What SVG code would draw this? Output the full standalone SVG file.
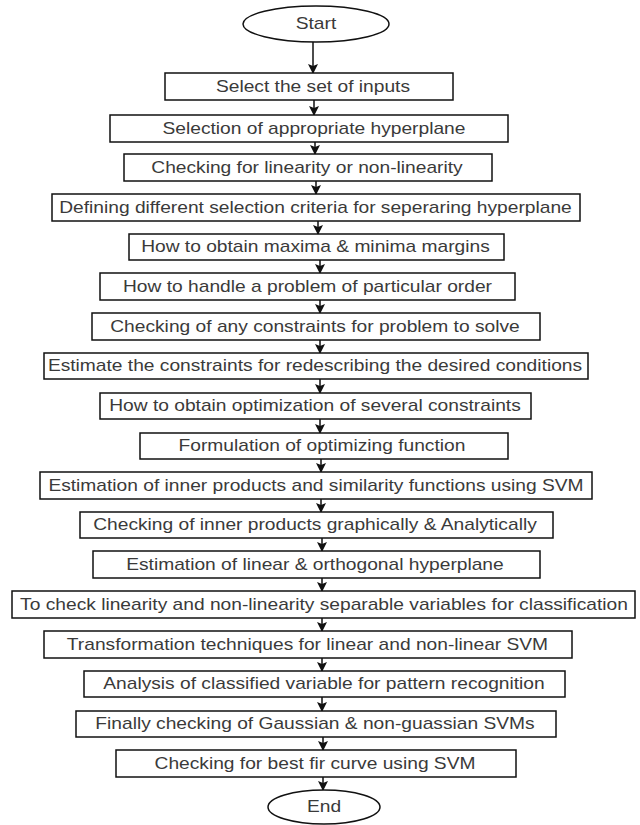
<svg xmlns="http://www.w3.org/2000/svg" width="640" height="825" viewBox="0 0 640 825">
<style>
.b{fill:#fff;stroke:#111;stroke-width:1.5}
.t{font-family:"Liberation Sans",Arial,sans-serif;font-size:16px;fill:#3a3a3a;text-anchor:middle;dominant-baseline:central;transform-box:fill-box;transform-origin:center;transform:scaleX(1.2)}
.c{stroke:#111;stroke-width:1.5;fill:none;marker-end:url(#ah)}
</style>
<defs>
<marker id="ah" markerWidth="10" markerHeight="10" refX="9" refY="5" orient="auto" markerUnits="userSpaceOnUse">
<path d="M0,0 L10,5 L0,10 L2,5 Z" fill="#111"/>
</marker>
</defs>
<rect width="640" height="825" fill="#fff"/>
<g id="connectors">
<line class="c" x1="313" y1="42" x2="313" y2="73"/>
<line class="c" x1="314" y1="100" x2="314" y2="115"/>
<line class="c" x1="315" y1="142" x2="315" y2="154"/>
<line class="c" x1="316" y1="181" x2="316" y2="194"/>
<line class="c" x1="318" y1="221" x2="318" y2="234"/>
<line class="c" x1="320" y1="260" x2="320" y2="273"/>
<line class="c" x1="320" y1="300" x2="320" y2="313"/>
<line class="c" x1="320" y1="340" x2="320" y2="353"/>
<line class="c" x1="320" y1="379" x2="320" y2="393"/>
<line class="c" x1="320" y1="419" x2="320" y2="433"/>
<line class="c" x1="321" y1="459" x2="321" y2="472"/>
<line class="c" x1="321" y1="499" x2="321" y2="512"/>
<line class="c" x1="322" y1="538" x2="322" y2="551"/>
<line class="c" x1="322" y1="578" x2="322" y2="591"/>
<line class="c" x1="322" y1="618" x2="322" y2="631"/>
<line class="c" x1="322" y1="658" x2="322" y2="671"/>
<line class="c" x1="322" y1="697" x2="322" y2="711"/>
<line class="c" x1="323" y1="737" x2="323" y2="750"/>
<line class="c" x1="323" y1="777" x2="323" y2="790"/>
</g>
<g id="start"><ellipse class="b" cx="316" cy="24" rx="73" ry="18"/><text class="t" x="316" y="24">Start</text></g>
<g id="n1"><rect class="b" x="165" y="73" width="288" height="27"/><text class="t" x="313" y="86.5">Select the set of inputs</text></g>
<g id="n2"><rect class="b" x="110" y="115" width="398" height="27"/><text class="t" x="314" y="128.5">Selection of appropriate hyperplane</text></g>
<g id="n3"><rect class="b" x="124" y="154" width="368" height="27"/><text class="t" x="307" y="167.5">Checking for linearity or non-linearity</text></g>
<g id="n4"><rect class="b" x="52" y="194" width="528" height="27"/><text class="t" x="315.5" y="207.5">Defining different selection criteria for seperaring hyperplane</text></g>
<g id="n5"><rect class="b" x="129" y="234" width="375" height="26"/><text class="t" x="315.5" y="247">How to obtain maxima &amp; minima margins</text></g>
<g id="n6"><rect class="b" x="100" y="273" width="415" height="27"/><text class="t" x="307.5" y="286.5">How to handle a problem of particular order</text></g>
<g id="n7"><rect class="b" x="92" y="313" width="448" height="27"/><text class="t" x="315" y="326.5">Checking of any constraints for problem to solve</text></g>
<g id="n8"><rect class="b" x="44" y="353" width="544" height="26"/><text class="t" x="315" y="366">Estimate the constraints for redescribing the desired conditions</text></g>
<g id="n9"><rect class="b" x="100" y="393" width="431" height="26"/><text class="t" x="315" y="406">How to obtain optimization of several constraints</text></g>
<g id="n10"><rect class="b" x="140" y="433" width="368" height="26"/><text class="t" x="322" y="446">Formulation of optimizing function</text></g>
<g id="n11"><rect class="b" x="40" y="472" width="552" height="27"/><text class="t" x="316" y="485.5">Estimation of inner products and similarity functions using SVM</text></g>
<g id="n12"><rect class="b" x="80" y="512" width="473" height="26"/><text class="t" x="315" y="525">Checking of inner products graphically &amp; Analytically</text></g>
<g id="n13"><rect class="b" x="93" y="551" width="447" height="27"/><text class="t" x="315" y="564.5">Estimation of linear &amp; orthogonal hyperplane</text></g>
<g id="n14"><rect class="b" x="12" y="591" width="623" height="27"/><text class="t" x="324" y="604.5">To check linearity and non-linearity separable variables for classification</text></g>
<g id="n15"><rect class="b" x="44" y="631" width="528" height="27"/><text class="t" x="307.5" y="644.5">Transformation techniques for linear and non-linear SVM</text></g>
<g id="n16"><rect class="b" x="84" y="671" width="481" height="26"/><text class="t" x="324" y="684">Analysis of classified variable for pattern recognition</text></g>
<g id="n17"><rect class="b" x="76" y="711" width="480" height="26"/><text class="t" x="315" y="724">Finally checking of Gaussian &amp; non-guassian SVMs</text></g>
<g id="n18"><rect class="b" x="116" y="750" width="400" height="27"/><text class="t" x="315" y="763.5">Checking for best fir curve using SVM</text></g>
<g id="end"><ellipse class="b" cx="324" cy="807" rx="56" ry="17"/><text class="t" x="324" y="807">End</text></g>
</svg>
